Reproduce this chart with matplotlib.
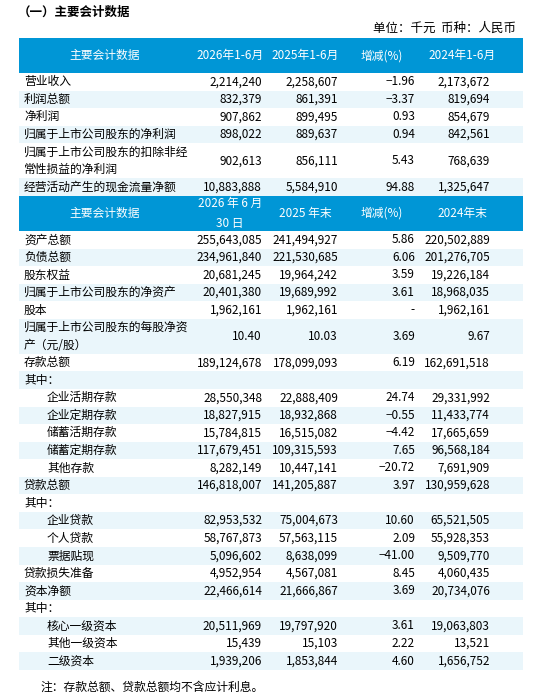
import matplotlib.pyplot as plt
from matplotlib.patches import Rectangle

plt.rcParams['font.family'] = ['Noto Sans CJK SC', 'DejaVu Sans']

title = '（一）主要会计数据'
unit = '单位：千元  币种：人民币'
note = '注：存款总额、贷款总额均不含应计利息。'

header1 = ['主要会计数据', '2026年1-6月', '2025年1-6月', '增减(%)', '2024年1-6月']
header2 = ['主要会计数据', '2026 年 6 月\n30 日', '2025 年末', '增减(%)', '2024年末']

# (label, indent, lines, v2026, v2025, change, v2024)
rows1 = [
    ('营业收入', 0, 1, '2,214,240', '2,258,607', '-1.96', '2,173,672'),
    ('利润总额', 0, 1, '832,379', '861,391', '-3.37', '819,694'),
    ('净利润', 0, 1, '907,862', '899,495', '0.93', '854,679'),
    ('归属于上市公司股东的净利润', 0, 1, '898,022', '889,637', '0.94', '842,561'),
    ('归属于上市公司股东的扣除非经\n常性损益的净利润', 0, 2, '902,613', '856,111', '5.43', '768,639'),
    ('经营活动产生的现金流量净额', 0, 1, '10,883,888', '5,584,910', '94.88', '1,325,647'),
]
rows2 = [
    ('资产总额', 0, 1, '255,643,085', '241,494,927', '5.86', '220,502,889'),
    ('负债总额', 0, 1, '234,961,840', '221,530,685', '6.06', '201,276,705'),
    ('股东权益', 0, 1, '20,681,245', '19,964,242', '3.59', '19,226,184'),
    ('归属于上市公司股东的净资产', 0, 1, '20,401,380', '19,689,992', '3.61', '18,968,035'),
    ('股本', 0, 1, '1,962,161', '1,962,161', '-', '1,962,161'),
    ('归属于上市公司股东的每股净资\n产（元/股）', 0, 2, '10.40', '10.03', '3.69', '9.67'),
    ('存款总额', 0, 1, '189,124,678', '178,099,093', '6.19', '162,691,518'),
    ('其中：', 0, 1, '', '', '', ''),
    ('企业活期存款', 1, 1, '28,550,348', '22,888,409', '24.74', '29,331,992'),
    ('企业定期存款', 1, 1, '18,827,915', '18,932,868', '-0.55', '11,433,774'),
    ('储蓄活期存款', 1, 1, '15,784,815', '16,515,082', '-4.42', '17,665,659'),
    ('储蓄定期存款', 1, 1, '117,679,451', '109,315,593', '7.65', '96,568,184'),
    ('其他存款', 1, 1, '8,282,149', '10,447,141', '-20.72', '7,691,909'),
    ('贷款总额', 0, 1, '146,818,007', '141,205,887', '3.97', '130,959,628'),
    ('其中：', 0, 1, '', '', '', ''),
    ('企业贷款', 1, 1, '82,953,532', '75,004,673', '10.60', '65,521,505'),
    ('个人贷款', 1, 1, '58,767,873', '57,563,115', '2.09', '55,928,353'),
    ('票据贴现', 1, 1, '5,096,602', '8,638,099', '-41.00', '9,509,770'),
    ('贷款损失准备', 0, 1, '4,952,954', '4,567,081', '8.45', '4,060,435'),
    ('资本净额', 0, 1, '22,466,614', '21,666,867', '3.69', '20,734,076'),
    ('其中：', 0, 1, '', '', '', ''),
    ('核心一级资本', 1, 1, '20,511,969', '19,797,920', '3.61', '19,063,803'),
    ('其他一级资本', 1, 1, '15,439', '15,103', '2.22', '13,521'),
    ('二级资本', 1, 1, '1,939,206', '1,853,844', '4.60', '1,656,752'),
]

W, H = 550, 698
fig = plt.figure(figsize=(W / 100, H / 100), dpi=100)
ax = fig.add_axes([0, 0, 1, 1])
ax.set_xlim(0, W)
ax.set_ylim(H, 0)
ax.axis('off')

left, right = 19, 523
rh = 17.55
blue = '#0096d6'
shade = '#eaf6fb'
fs = 8.5
col_right = [262, 338, 415, 490]
hdr_x = [105, 230, 305, 382, 462]

ax.text(18, 12, title, fontsize=9, fontweight='bold', va='center')
ax.text(516, 28, unit, fontsize=9, va='center', ha='right')


def header(y, labels):
    ax.add_patch(Rectangle((left, y), right - left, 2 * rh, color=blue, lw=0))
    for x, s in zip(hdr_x, labels):
        ax.text(x, y + rh, s, fontsize=fs, color='white', ha='center', va='center',
                linespacing=1.8)
    return y + 2 * rh


def body(y, rows):
    for i, r in enumerate(rows):
        label, ind, n, *vals = r
        h = n * rh
        if i % 2 == 1:
            ax.add_patch(Rectangle((left, y), right - left, h, color=shade, lw=0))
        ax.text(24 + 23 * ind, y + h / 2, label, fontsize=fs, va='center',
                linespacing=1.5)
        for x, v in zip(col_right, vals):
            ax.text(x, y + h / 2, v.replace('-', '−') if v != '-' else v,
                    fontsize=fs, va='center', ha='right')
        y += h
    return y


y = 38
y = header(y, header1)
y = body(y, rows1)
y = header(y, header2)
y = body(y, rows2)
ax.text(40, y + 17, note, fontsize=fs, va='center')

fig.savefig('out.png', dpi=100)
